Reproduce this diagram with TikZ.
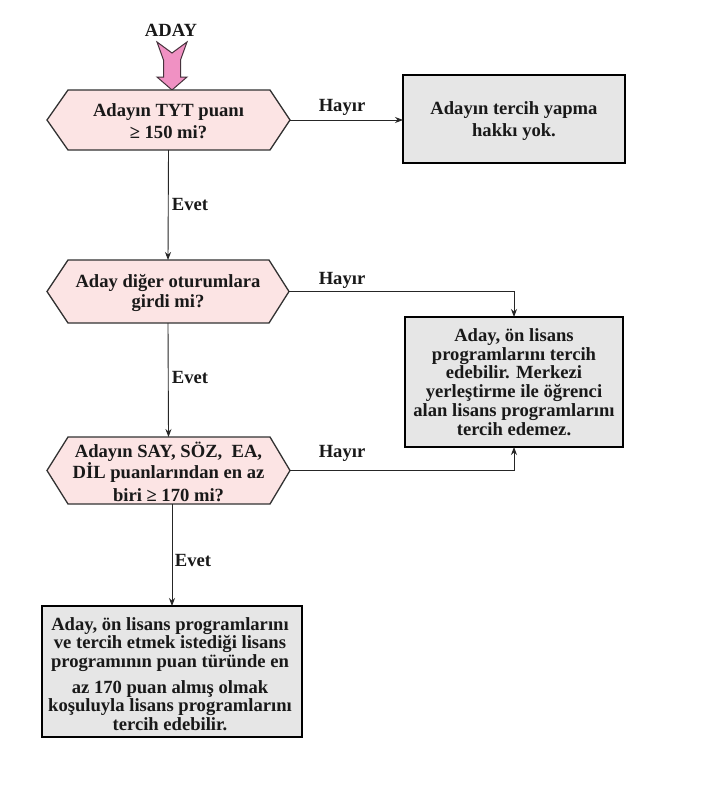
\documentclass[tikz,border=0pt]{standalone}
\usepackage{fontspec}
\setmainfont{Liberation Serif}
\usetikzlibrary{arrows.meta}
\definecolor{hexfill}{RGB}{252,228,228}
\definecolor{hexline}{RGB}{50,50,50}
\definecolor{boxfill}{RGB}{230,230,230}
\definecolor{arrowpink}{RGB}{240,145,195}
\definecolor{arrowline}{RGB}{70,50,60}
\begin{document}
\begin{tikzpicture}[x=1pt,y=-1pt,
  hexnode/.style={minimum width=#1, minimum height=60pt, inner sep=0pt, outer sep=0pt},
  hexshape/.style={draw=hexline, fill=hexfill, line width=1.3pt, line join=miter},
  procbox/.style={draw=black, fill=boxfill, line width=1.8pt, inner sep=0pt, outer sep=0pt},
  txt/.style={font=\fontsize{18.6}{#1}\selectfont\bfseries, align=center, inner sep=0pt, text=black!90},
  lbl/.style={font=\fontsize{18.6}{20}\selectfont\bfseries, inner sep=0pt, text=black!90},
  conn/.style={draw=black!85, line width=0.9pt, -{Stealth[length=8pt,width=6pt]}}
]
\useasboundingbox (0,0) rectangle (721,808);
\fill[white] (0,0) rectangle (721,808);

% start arrow
\node[lbl] (aday) at (171,30) {ADAY};
\draw[fill=arrowpink, draw=arrowline, line width=1pt, line join=miter]
  (157,42) -- (172,53) -- (187,42) -- (180.5,60) -- (180.5,77) -- (187,77) -- (172,90)
  -- (157,77) -- (163.5,77) -- (163.5,60) -- cycle;

% hexagon nodes
\node[hexnode=243pt, minimum height=60pt] (h1) at (168.5,120) {};
\node[hexnode=242pt, minimum height=63pt] (h2) at (168,291.5) {};
\node[hexnode=243pt, minimum height=67pt] (h3) at (168.5,470.5) {};
\foreach \h in {h1,h2,h3}{
  \draw[hexshape] (\h.west) -- ([xshift=21pt]\h.north west) -- ([xshift=-20pt]\h.north east)
    -- (\h.east) -- ([xshift=-20pt]\h.south east) -- ([xshift=21pt]\h.south west) -- cycle;
}
\node[txt=22pt] (h1t) at (168.5,121) {Adayın TYT puanı\\≥ 150 mi?};
\node[txt=20pt] (h2t) at (168,293) {Aday diğer oturumlara\\girdi mi?};
\node[txt=18pt] (h3t) at (168.5,472) {Adayın SAY, SÖZ,~ EA,\\DİL puanlarından en az\\[5pt]biri ≥ 170 mi?};

% boxes
\node[procbox, minimum width=222pt, minimum height=88pt] (b1) at (514,119) {};
\node[procbox, minimum width=218pt, minimum height=130pt] (b2) at (514,382) {};
\node[procbox, minimum width=260pt, minimum height=131pt] (b3) at (172,671.5) {};
\node[txt=22pt] (b1t) at (514,121) {Adayın tercih yapma\\hakkı yok.};
\node[txt=18.8pt] (b2t) at (514,382) {Aday, ön lisans\\programlarını tercih\\edebilir. Merkezi\\yerleştirme ile öğrenci\\alan lisans programlarını\\tercih edemez.};
\node[txt=18.5pt] (b3t) at (170,674) {Aday, ön lisans programlarını\\ve tercih etmek istediği lisans\\programının puan türünde en\\[7.5pt]az 170 puan almış olmak\\koşuluyla lisans programlarını\\tercih edebilir.};

% connectors
\draw[conn] (h1.east) -- (b1.west |- h1.east);
\draw[conn] (h1.south) -- (h2.north);
\draw[conn] (h2.east) -| (b2.north);
\draw[conn] (h2.south) -- (h3.north);
\draw[conn] (h3.east) -| (b2.south);
\draw[conn] (h3.south -| b3.north) -- (b3.north);

% labels
\node[lbl] (l1) at (342,107) {Hayır};
\node[lbl] (l2) at (342,280) {Hayır};
\node[lbl] (l3) at (342,453) {Hayır};
\node[lbl] (e1) at (190,204) {Evet};
\node[lbl] (e2) at (190,377) {Evet};
\node[lbl] (e3) at (193,560) {Evet};
\end{tikzpicture}
\end{document}
